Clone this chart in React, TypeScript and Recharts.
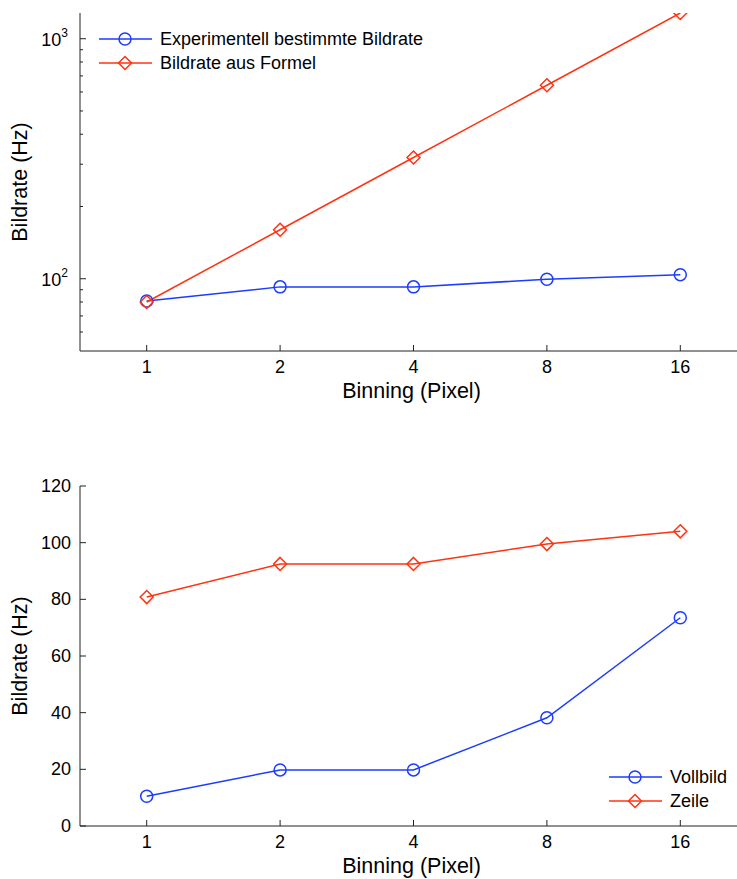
import { LineChart, Line, XAxis, YAxis, Legend, Label } from "recharts";

const binning = [1, 2, 4, 8, 16];
const formelRate = [80, 160, 320, 640, 1280];
const zeileRate = [80.8, 92.5, 92.5, 99.5, 104];
const vollbildRate = [10.5, 19.8, 19.8, 38.2, 73.5];

const logTicks = [50, 60, 70, 80, 90, 100, 200, 300, 400, 500, 600, 700, 800, 900, 1000];
const linTicks = [0, 20, 40, 60, 80, 100, 120];

const BLUE = "#1c3cff";
const RED = "#ff3311";
const INK = "#222";
const FONT = "'Liberation Sans', Arial, Helvetica, sans-serif";

const topData = binning.map((b, i) => ({
  lx: Math.log2(b),
  exp: zeileRate[i],
  formel: formelRate[i],
}));
const bottomData = binning.map((b, i) => ({
  lx: Math.log2(b),
  voll: vollbildRate[i],
  zeile: zeileRate[i],
}));

function CircleDot(props: any) {
  const { cx, cy } = props;
  if (cx == null || cy == null) return null;
  return <circle cx={cx} cy={cy} r={6} fill="none" stroke={BLUE} strokeWidth={1.5} />;
}

function DiamondDot(props: any) {
  const { cx, cy } = props;
  if (cx == null || cy == null) return null;
  const s = 6.5;
  return (
    <polygon
      points={`${cx},${cy - s} ${cx + s},${cy} ${cx},${cy + s} ${cx - s},${cy}`}
      fill="none"
      stroke={RED}
      strokeWidth={1.5}
    />
  );
}

function XTick(props: any) {
  const { x, y, payload } = props;
  return (
    <g>
      <line x1={x} x2={x} y1={y} y2={y - 6} stroke={INK} />
      <text x={x} y={y + 22} textAnchor="middle" fontSize={18} fontFamily={FONT} fill="#000">
        {Math.pow(2, payload.value)}
      </text>
    </g>
  );
}

function LogYTick(props: any) {
  const { x, y, payload } = props;
  const v = payload.value;
  const major = v === 100 || v === 1000;
  if (v === 50) return null;
  return (
    <g>
      <line x1={x} x2={x + (major ? 6 : 3)} y1={y} y2={y} stroke={INK} />
      {major && (
        <text x={x - 12} y={y + 7} textAnchor="end" fontSize={18} fontFamily={FONT} fill="#000">
          10
          <tspan dy={-9} fontSize={12}>
            {v === 100 ? 2 : 3}
          </tspan>
        </text>
      )}
    </g>
  );
}

function LinYTick(props: any) {
  const { x, y, payload } = props;
  return (
    <g>
      <line x1={x} x2={x + 6} y1={y} y2={y} stroke={INK} />
      <text x={x - 9} y={y + 6} textAnchor="end" fontSize={18} fontFamily={FONT} fill="#000">
        {payload.value}
      </text>
    </g>
  );
}

function LegendBox({ items }: { items: { label: string; color: string; marker: "o" | "d" }[] }) {
  return (
    <div style={{ fontFamily: FONT, fontSize: 18, color: "#000", whiteSpace: "nowrap" }}>
      {items.map((it) => (
        <div key={it.label} style={{ display: "flex", alignItems: "center", height: 24 }}>
          <svg width={61} height={20} style={{ display: "block" }}>
            <line x1={0} x2={53} y1={10} y2={10} stroke={it.color} strokeWidth={1.5} />
            {it.marker === "o" ? (
              <CircleDot cx={26} cy={10} />
            ) : (
              <DiamondDot cx={26} cy={10} />
            )}
          </svg>
          <span>{it.label}</span>
        </div>
      ))}
    </div>
  );
}

function YLabel(text: string) {
  return (props: any) => {
    const vb = props.viewBox;
    const cx = 21;
    const cy = vb.y + vb.height / 2;
    return (
      <text
        x={cx}
        y={cy}
        transform={`rotate(-90 ${cx} ${cy})`}
        textAnchor="middle"
        dominantBaseline="middle"
        fontSize={21.5}
        fontFamily={FONT}
        fill="#000"
      >
        {text}
      </text>
    );
  };
}

function XLabel(props: any) {
  const vb = props.viewBox;
  return (
    <text
      x={vb.x + vb.width / 2 - 2}
      y={vb.y + 47}
      textAnchor="middle"
      fontSize={21.5}
      fontFamily={FONT}
      fill="#000"
    >
      Binning (Pixel)
    </text>
  );
}

const CHART_W = 747;

export default function App() {
  return (
    <div
      style={{
        position: "absolute",
        left: 0,
        top: 0,
        width: 737,
        height: 879,
        overflow: "hidden",
        background: "#fff",
      }}
    >
      <div style={{ position: "absolute", left: 0, top: 0 }}>
        <LineChart
          width={CHART_W}
          height={420}
          data={topData}
          margin={{ top: 13, right: 0, bottom: 0, left: 0 }}
        >
          <XAxis
            dataKey="lx"
            type="number"
            domain={[-0.5, 4.5]}
            ticks={[0, 1, 2, 3, 4]}
            height={69}
            tickSize={0}
            tickMargin={0}
            tick={<XTick />}
            stroke={INK}
            allowDataOverflow
          >
            <Label content={XLabel} />
          </XAxis>
          <YAxis
            scale="log"
            domain={[50, 1280]}
            ticks={logTicks}
            width={80}
            tickSize={0}
            tickMargin={0}
            tick={<LogYTick />}
            stroke={INK}
            interval={0}
            allowDataOverflow
          >
            <Label content={YLabel("Bildrate (Hz)")} />
          </YAxis>
          <Legend
            layout="horizontal"
            verticalAlign="middle"
            align="center"
            content={() => (
              <LegendBox
                items={[
                  { label: "Experimentell bestimmte Bildrate", color: BLUE, marker: "o" },
                  { label: "Bildrate aus Formel", color: RED, marker: "d" },
                ]}
              />
            )}
            wrapperStyle={{ position: "absolute", left: 99, top: 27, width: "auto" }}
          />
          <Line
            dataKey="exp"
            stroke={BLUE}
            strokeWidth={1.5}
            dot={<CircleDot />}
            activeDot={false}
            isAnimationActive={false}
          />
          <Line
            dataKey="formel"
            stroke={RED}
            strokeWidth={1.5}
            dot={<DiamondDot />}
            activeDot={false}
            isAnimationActive={false}
          />
        </LineChart>
      </div>
      <div style={{ position: "absolute", left: 0, top: 440 }}>
        <LineChart
          width={CHART_W}
          height={439}
          data={bottomData}
          margin={{ top: 46, right: 0, bottom: 0, left: 0 }}
        >
          <XAxis
            dataKey="lx"
            type="number"
            domain={[-0.5, 4.5]}
            ticks={[0, 1, 2, 3, 4]}
            height={53}
            tickSize={0}
            tickMargin={0}
            tick={<XTick />}
            stroke={INK}
            allowDataOverflow
          >
            <Label content={XLabel} />
          </XAxis>
          <YAxis
            domain={[0, 120]}
            ticks={linTicks}
            width={80}
            tickSize={0}
            tickMargin={0}
            tick={<LinYTick />}
            stroke={INK}
            interval={0}
            allowDataOverflow
          >
            <Label content={YLabel("Bildrate (Hz)")} />
          </YAxis>
          <Legend
            layout="horizontal"
            verticalAlign="middle"
            align="center"
            content={() => (
              <LegendBox
                items={[
                  { label: "Vollbild", color: BLUE, marker: "o" },
                  { label: "Zeile", color: RED, marker: "d" },
                ]}
              />
            )}
            wrapperStyle={{ position: "absolute", left: 609, top: 325, width: "auto" }}
          />
          <Line
            dataKey="voll"
            stroke={BLUE}
            strokeWidth={1.5}
            dot={<CircleDot />}
            activeDot={false}
            isAnimationActive={false}
          />
          <Line
            dataKey="zeile"
            stroke={RED}
            strokeWidth={1.5}
            dot={<DiamondDot />}
            activeDot={false}
            isAnimationActive={false}
          />
        </LineChart>
      </div>
    </div>
  );
}
